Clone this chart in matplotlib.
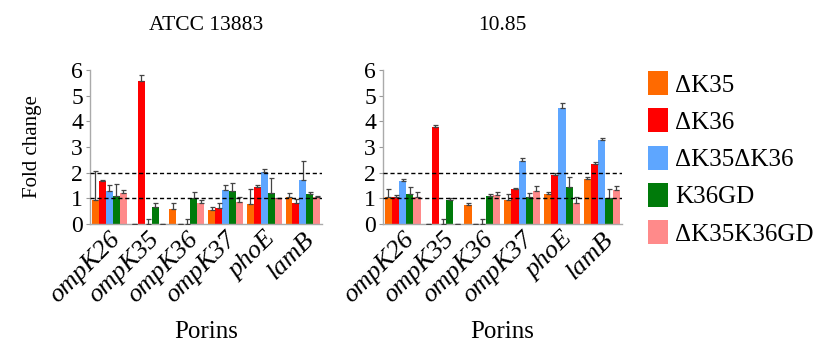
import numpy as np
import matplotlib
matplotlib.use('Agg')
import matplotlib.pyplot as plt
from matplotlib.patches import Patch

plt.rcParams['font.family'] = ['Liberation Serif', 'DejaVu Serif']

porins = ['ompK26', 'ompK35', 'ompK36', 'ompK37', 'phoE', 'lamB']
strains = ['\u0394K35', '\u0394K36', '\u0394K35\u0394K36', 'K36GD', '\u0394K35K36GD']
colors = ['#FF6A00', '#FF0000', '#5EA6FF', '#007A0A', '#FF8A8A']
titles = ['ATCC 13883', '10.85']

# ATCC 13883: fold change and upper error per strain
atcc_dk35 = [0.93, 0.0, 0.57, 0.54, 0.78, 1.03]
atcc_dk35_err = [1.12, 0.0, 0.23, 0.13, 0.60, 0.18]
atcc_dk36 = [1.68, 5.58, 0.0, 0.62, 1.45, 0.80]
atcc_dk36_err = [0.05, 0.22, 0.0, 0.18, 0.07, 0.16]
atcc_dk35dk36 = [1.28, 0.0, 0.0, 1.32, 2.03, 1.70]
atcc_dk35dk36_err = [0.24, 0.2, 0.2, 0.20, 0.10, 0.75]
atcc_k36gd = [1.10, 0.65, 1.00, 1.27, 1.19, 1.16]
atcc_k36gd_err = [0.45, 0.18, 0.25, 0.31, 0.61, 0.07]
atcc_dk35k36gd = [1.21, 0.0, 0.83, 0.86, 1.00, 1.03]
atcc_dk35k36gd_err = [0.12, 0.0, 0.12, 0.19, 0.0, 0.07]

# 10.85
s1085_dk35 = [1.03, 0.0, 0.74, 0.94, 1.16, 1.74]
s1085_dk35_err = [0.32, 0.0, 0.09, 0.24, 0.10, 0.07]
s1085_dk36 = [1.03, 3.76, 0.0, 1.35, 1.91, 2.33]
s1085_dk36_err = [0.10, 0.11, 0.0, 0.05, 0.08, 0.07]
s1085_dk35dk36 = [1.68, 0.0, 0.0, 2.46, 4.52, 3.27]
s1085_dk35dk36_err = [0.06, 0.2, 0.2, 0.11, 0.18, 0.08]
s1085_k36gd = [1.16, 0.93, 1.07, 1.03, 1.42, 1.00]
s1085_k36gd_err = [0.26, 0.07, 0.09, 0.19, 0.39, 0.38]
s1085_dk35k36gd = [1.05, 0.0, 1.13, 1.29, 0.81, 1.32]
s1085_dk35k36gd_err = [0.21, 0.0, 0.13, 0.19, 0.22, 0.16]

panels = [
    ([atcc_dk35, atcc_dk36, atcc_dk35dk36, atcc_k36gd, atcc_dk35k36gd],
     [atcc_dk35_err, atcc_dk36_err, atcc_dk35dk36_err, atcc_k36gd_err, atcc_dk35k36gd_err]),
    ([s1085_dk35, s1085_dk36, s1085_dk35dk36, s1085_k36gd, s1085_dk35k36gd],
     [s1085_dk35_err, s1085_dk36_err, s1085_dk35dk36_err, s1085_k36gd_err, s1085_dk35k36gd_err]),
]

fig = plt.figure(figsize=(8.18, 3.45), dpi=100)
rects = [[0.110, 0.351, 0.284, 0.446], [0.468, 0.351, 0.292, 0.446]]
x = np.arange(len(porins))
w = 0.18

for k, (vals, errs) in enumerate(panels):
    ax = fig.add_axes(rects[k])
    for j in range(len(strains)):
        pos = x + (j - 2) * w
        v = np.array(vals[j])
        e = np.array(errs[j])
        ax.bar(pos, v, w, color=colors[j], edgecolor='none', zorder=2)
        ax.errorbar(pos, v, yerr=[np.zeros_like(e), e], fmt='none',
                    ecolor='#444444', elinewidth=0.9, capsize=1.8,
                    capthick=0.9, zorder=3)
    ax.axhline(1, color='black', ls='--', lw=1.0, dashes=(3, 2), zorder=4)
    ax.axhline(2, color='black', ls='--', lw=1.0, dashes=(3, 2), zorder=4)
    ax.set_xlim(-0.5, 5.5)
    ax.set_ylim(0, 6)
    ax.set_yticks(range(7))
    ax.tick_params(axis='y', labelsize=17, length=3, color='#999999', pad=2)
    ax.tick_params(axis='x', length=0, pad=3)
    ax.set_xticks(x)
    ax.set_xticklabels(porins, rotation=45, ha='right', fontsize=19,
                       style='italic', rotation_mode='anchor')
    for s in ['top', 'right']:
        ax.spines[s].set_visible(False)
    for s in ['left', 'bottom']:
        ax.spines[s].set_color('#AAAAAA')
        ax.spines[s].set_linewidth(1.0)
    ax.set_title(titles[k], fontsize=15.5, pad=29)
    ax.set_xlabel('Porins', fontsize=18, labelpad=10)
    if k == 0:
        ax.set_ylabel('Fold change', fontsize=15, labelpad=21)

handles = [Patch(facecolor=c, edgecolor='none') for c in colors]
fig.legend(handles, strains, loc='upper left', bbox_to_anchor=(0.792, 0.794),
           frameon=False, fontsize=18, handlelength=0.8, handleheight=1.1,
           labelspacing=0.47, handletextpad=0.3, borderaxespad=0,
           borderpad=0)

fig.savefig('out.png', dpi=100)
